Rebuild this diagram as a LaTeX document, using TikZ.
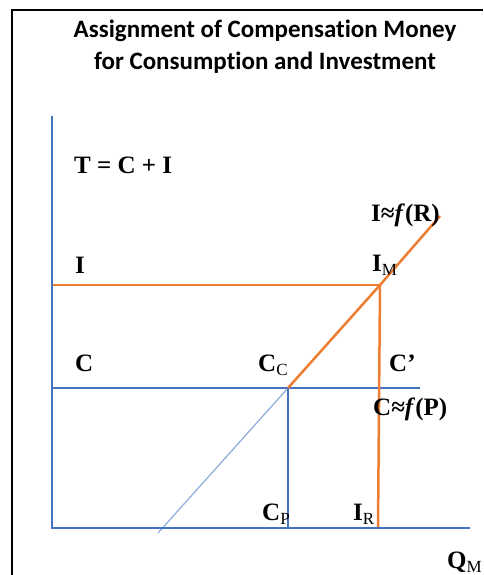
\documentclass[tikz,border=0pt]{standalone}
\usepackage{fontspec}
\setmainfont{Liberation Serif}
\newfontfamily\titlefont[Ligatures=NoCommon]{Carlito}
\usetikzlibrary{positioning}
\definecolor{axisblue}{RGB}{68,114,196}
\definecolor{lineorange}{RGB}{237,125,49}
\definecolor{diagblue}{RGB}{142,169,219}
\newcommand{\lowidx}[1]{\raisebox{-4pt}{\fontsize{17}{17}\selectfont\mdseries #1}}

\begin{document}
\begin{tikzpicture}[x=1pt,y=-1pt,
    every node/.style={font=\fontsize{25}{27}\selectfont\bfseries, inner sep=0pt, anchor=base west},
    titletext/.style={anchor=base, font=\titlefont\fontsize{25}{27}\selectfont\bfseries},
    frameline/.style={line width=2.5pt, black},
    bluecurve/.style={line width=2.5pt, axisblue},
    orangecurve/.style={line width=2.5pt, lineorange},
    diagline/.style={line width=1.2pt, diagblue}]
  \useasboundingbox (0,0) rectangle (483,575);
  % frame
  \coordinate (fl) at (12,575); \coordinate (fc) at (12,10); \coordinate (fr) at (483,10);
  \draw[frameline] (fl) -- (fc) -- (fr);
  % points of the chart
  \coordinate (o) at (52,528);
  \coordinate (ytop) at (52,116);
  \coordinate (xend) at (470,528);
  \coordinate (iy) at (52,285);
  \coordinate (im) at (380,285);
  \coordinate (cy) at (52,388);
  \coordinate (cend) at (420,388);
  \coordinate (cc) at (288,388);
  \coordinate (cp) at (288,528);
  \coordinate (ir) at (378,528);
  \coordinate (rtop) at (440,216);
  \coordinate (dstart) at (158,533);
  % lines
  \draw[bluecurve] (cy) -- (cend);
  \draw[diagline] (dstart) -- (cc);
  \draw[bluecurve] (cc) -- (cp);
  \draw[orangecurve] (iy) -- (im);
  \draw[orangecurve] (cc) -- (im) -- (rtop);
  \draw[orangecurve] (im) -- (ir);
  \draw[bluecurve] (ytop) -- (o) -- (xend);
  % title
  \node[titletext] (title1) at (265,38) {Assignment of Compensation Money};
  \node[titletext] (title2) at (265,70) {for Consumption and Investment};
  % labels
  \node (eq) at (74,173) {T = C + I};
  \node (ilab) at (75,273) {I};
  \node (irel) at (371,221) {I≈\textit{f}(R)};
  \node (imlab) at (372,271) {I\lowidx{M}};
  \node (clab) at (75,371) {C};
  \node (cclab) at (258,371) {C\lowidx{C}};
  \node (cprime) at (389,371) {C’};
  \node (crel) at (373,415) {C≈\textit{f}(P)};
  \node (cplab) at (262,520) {C\lowidx{P}};
  \node (irlab) at (353,520) {I\lowidx{R}};
  \node (qlab) at (447,568) {Q\lowidx{M}};
\end{tikzpicture}
\end{document}
